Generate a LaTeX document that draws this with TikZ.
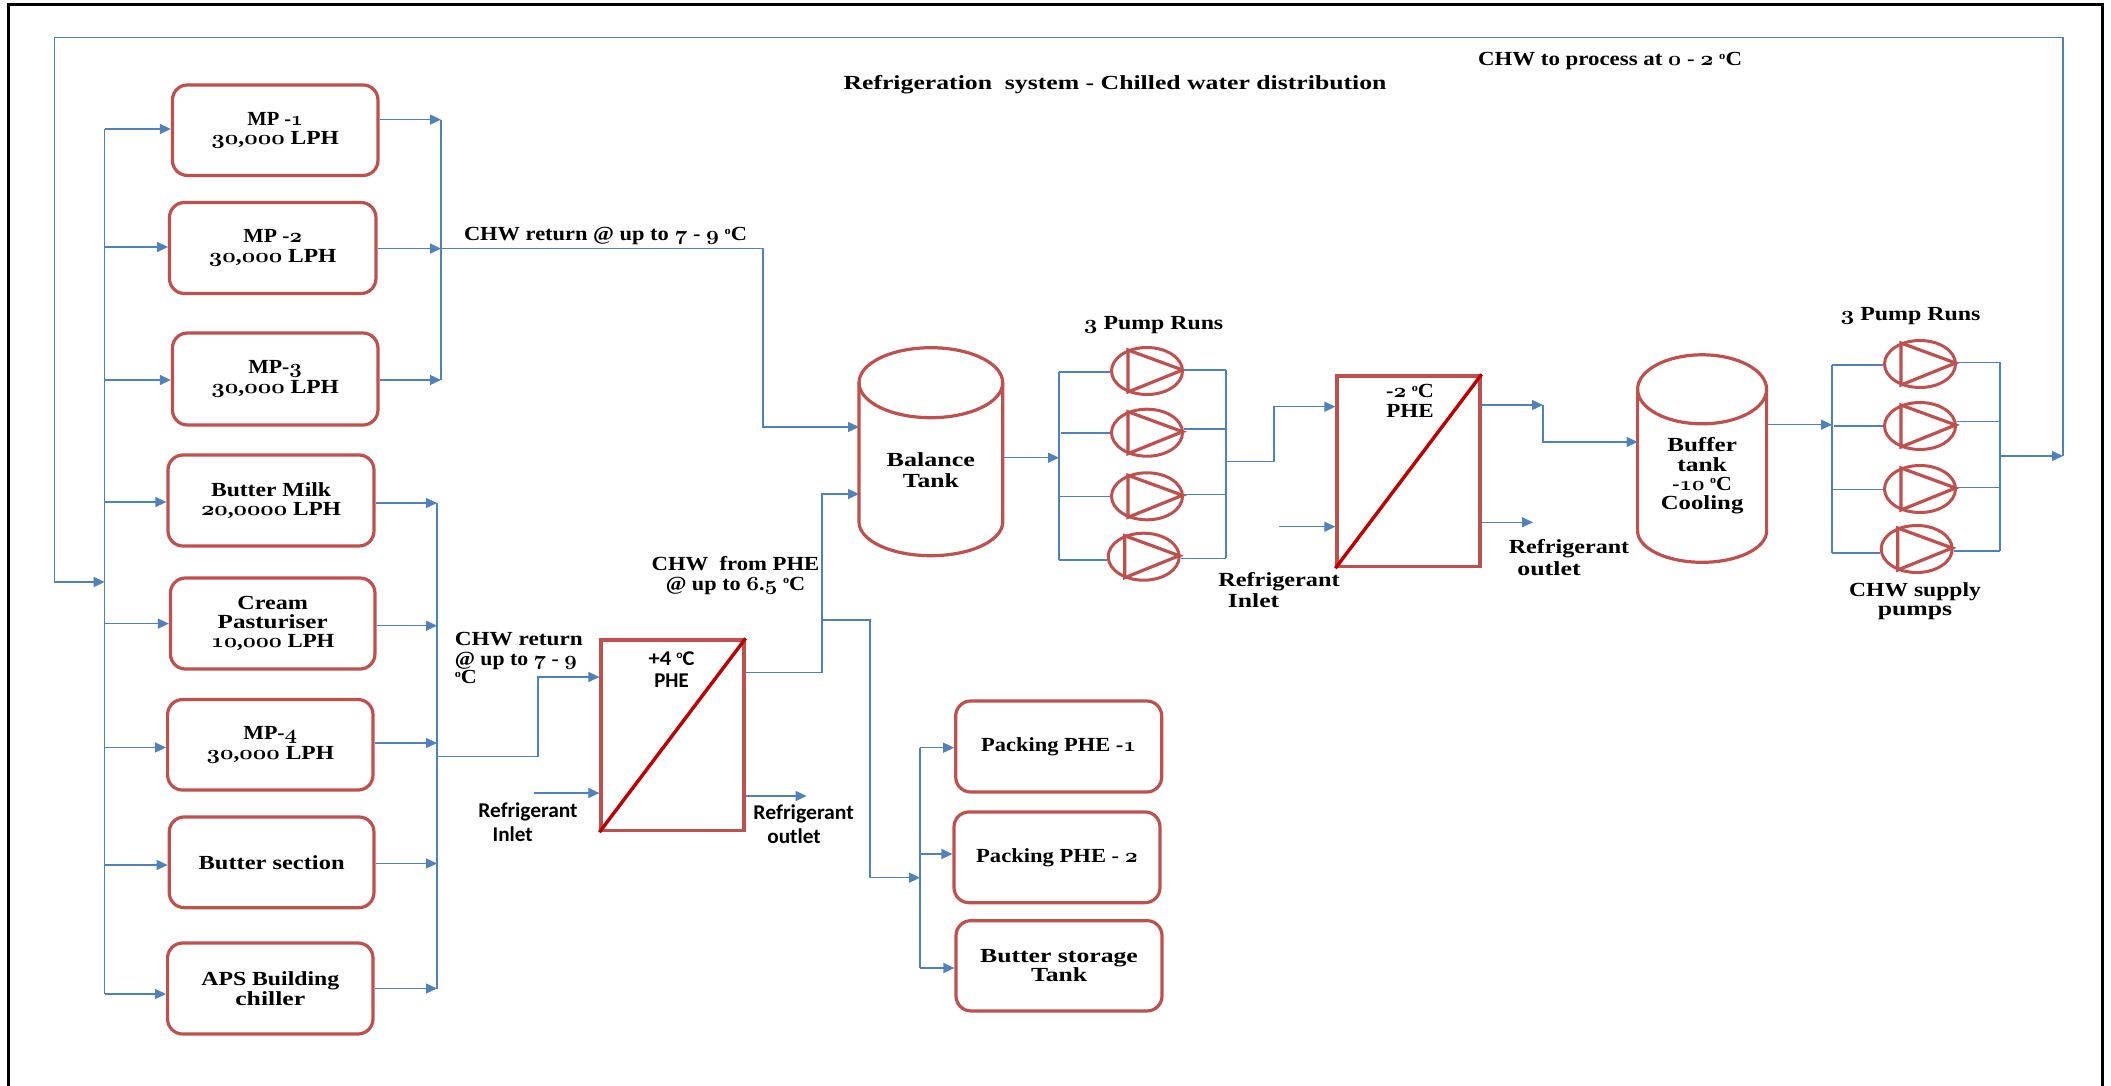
\documentclass[tikz,border=0pt]{standalone}
\usepackage{fontspec}
\usepackage{graphicx}
\usetikzlibrary{arrows.meta,shapes.geometric,calc}
\setmainfont{Liberation Serif}
\newfontfamily\carl{Carlito}
\font\osfont=cmmib10 at 20pt
\newcommand\os[1]{{\osfont #1}}
\newlength\fitlen
\newcommand\F[2]{\settowidth\fitlen{#2}\pgfmathsetmacro\fitr{#1/\the\fitlen}\scalebox{\fitr}[1]{#2}}
\newcommand\dg{\raisebox{6.5pt}{\fontsize{11}{11}\selectfont o}C}
\definecolor{boxred}{HTML}{C0504D}
\definecolor{pipe}{HTML}{4F81BD}
\definecolor{diag}{HTML}{C00000}
\tikzset{
  x=1pt,y=-1pt,
  procbox/.style={draw=boxred,line width=3.2pt,rounded corners=15pt,align=center,inner sep=0pt,
    font=\bfseries\fontsize{20}{19.3}\selectfont},
  lbl/.style={align=center,inner sep=0pt,font=\bfseries\fontsize{20}{19.3}\selectfont},
  clbl/.style={align=center,inner sep=0pt,font=\carl\bfseries\fontsize{21}{23}\selectfont},
  pipeline/.style={draw=pipe,line width=1.3pt},
  pipearrow/.style={pipeline,-{Triangle[length=11pt,width=10pt,fill=pipe]}},
  equip/.style={draw=boxred,line width=3.2pt},
  phebox/.style={draw=boxred,line width=3.2pt,inner sep=0pt,align=center},
  pumpbody/.style={ellipse,draw=boxred,line width=3pt,minimum width=71pt,minimum height=47pt,inner sep=0pt},
}
\newcommand\tri[1]{\draw[equip,line join=miter]
  ($(#1.center)+(-19,-21)$) -- ($(#1.center)+(35.5,-1)$) -- ($(#1.center)+(-19,21)$) -- cycle;}
\begin{document}
\begin{tikzpicture}
\useasboundingbox (0,0) rectangle (2111,1086);
\fill[white] (0,0) rectangle (2111,1086);
\draw[black,line width=3pt] (8,1086) -- (8,5) -- (2102.5,5) -- (2102.5,1086);

% process boxes
\node[procbox,minimum width=205.5pt,minimum height=90.5pt] (mp1) at (275.2,130.2) {\F{55.6}{MP -\os{1}}\\\F{127.5}{\os{30},\os{000} LPH}};
\node[procbox,minimum width=206.5pt,minimum height=91pt] (mp2) at (272.7,248) {\F{58.7}{MP -\os{2}}\\\F{127.5}{\os{30},\os{000} LPH}};
\node[procbox,minimum width=205.5pt,minimum height=92pt] (mp3) at (275.2,379) {\F{53.6}{MP-\os{3}}\\\F{127.5}{\os{30},\os{000} LPH}};
\node[procbox,minimum width=206pt,minimum height=91pt] (bm) at (271,500.5) {\F{120}{Butter Milk}\\\F{140}{\os{20},\os{0000} LPH}};
\node[procbox,minimum width=204.5pt,minimum height=91pt] (cp) at (272.7,623.5) {\F{70.6}{Cream}\\\F{110}{Pasturiser}\\\F{123.4}{\os{10},\os{000} LPH}};
\node[procbox,minimum width=205.4pt,minimum height=90.5pt] (mp4) at (270.3,744.8) {\F{54}{MP-\os{4}}\\\F{127.4}{\os{30},\os{000} LPH}};
\node[procbox,minimum width=204.7pt,minimum height=90.7pt] (bs) at (271.6,862.3) {\F{146}{Butter section}};
\node[procbox,minimum width=205.4pt,minimum height=91pt] (aps) at (270.3,988.5) {\F{137.8}{APS Building}\\\F{70}{chiller}};
\node[procbox,minimum width=206pt,minimum height=91pt] (pk1) at (1058.7,746.5) {\F{155}{Packing PHE -\os{1}}};
\node[procbox,minimum width=206pt,minimum height=90.7pt] (pk2) at (1057,857.3) {\F{161.7}{Packing PHE - \os{2}}};
\node[procbox,minimum width=206pt,minimum height=90.3pt] (bst) at (1059,965.8) {\F{157.7}{Butter storage}\\\F{56}{Tank}};

% plate heat exchangers
\node[phebox,minimum width=143pt,minimum height=190.7pt] (phea) at (672.5,735.3) {};
\draw[draw=diag,line width=3.4pt] (phea.south west) -- (phea.north east);
\node[clbl] (phealbl) at (671.6,669.5) {\F{46}{+4 \dg}\\[-0.5pt]\F{34.4}{PHE}};
\node[phebox,minimum width=143pt,minimum height=190.7pt] (pheb) at (1408.5,471.3) {};
\draw[draw=diag,line width=3.4pt] (pheb.south west) -- (pheb.north east);
\node[lbl] (pheblbl) at (1410,401) {\F{47.8}{-\os{2} \dg}\\\F{47.3}{PHE}};

% tanks
\draw[equip] (859,382.7) arc[start angle=180,end angle=-180,x radius=71.85,y radius=-35];
\draw[equip] (859,382.7) -- (859,522) arc[start angle=180,end angle=360,x radius=71.85,y radius=-33.7] -- (1002.7,382.7);
\node[lbl,minimum width=143.7pt,minimum height=60pt] (bal) at (930.8,470) {\F{88.4}{Balance}\\[2.2pt]\F{56}{Tank}};
\draw[equip] (1637.6,389.3) arc[start angle=180,end angle=-180,x radius=64.5,y radius=-34.5];
\draw[equip] (1637.6,389.3) -- (1637.6,531) arc[start angle=180,end angle=360,x radius=64.5,y radius=-31.3] -- (1766.6,389.3);
\node[lbl,minimum width=129pt,minimum height=60pt] (buf) at (1702.1,476) {\F{69.6}{Buffer}\\\F{49.6}{tank}\\\F{59.4}{-\os{10} \dg}\\\F{82.5}{Cooling}};

% pumps
\node[pumpbody] (pa1) at (1147,371) {}; \tri{pa1}
\node[pumpbody] (pa2) at (1147,432.7) {}; \tri{pa2}
\node[pumpbody] (pa3) at (1147,496.3) {}; \tri{pa3}
\node[pumpbody] (pa4) at (1143.7,556.7) {}; \tri{pa4}
\node[pumpbody] (pb1) at (1920,364) {}; \tri{pb1}
\node[pumpbody] (pb2) at (1920,426) {}; \tri{pb2}
\node[pumpbody] (pb3) at (1920,489) {}; \tri{pb3}
\node[pumpbody] (pb4) at (1916.7,549) {}; \tri{pb4}

% labels
\node[lbl] (t1) at (1115,85) {\F{543}{Refrigeration\ \ system - Chilled water distribution}};
\node[lbl] (t2) at (1610,61.5) {\F{264}{CHW to process at \os{0} - \os{2} \dg}};
\node[lbl] (t3) at (605.5,236) {\F{283}{CHW return @ up to \os{7} - \os{9} \dg}};
\node[lbl,align=left,anchor=west] (t4) at (454.6,658) {\F{128}{CHW return}\\[0.8pt]\F{122}{@ up to \os{7} - \os{9}}\\[-0.8pt]\F{22}{\dg}};
\node[lbl] (t5) at (735.5,575.5) {\F{167.6}{CHW\ \ from PHE}\\\F{139.5}{@ up to \os{6}.\os{5} \dg}};
\node[clbl] (r1) at (528,811.6) {\F{99.3}{Refrigerant}};
\node[clbl] (r2) at (512.6,834.6) {\F{40}{Inlet}};
\node[clbl] (r3) at (803.7,813.7) {\F{100.5}{Refrigerant}};
\node[clbl] (r4) at (794,836.7) {\F{53.4}{outlet}};
\node[lbl] (r5) at (1279,582) {\F{121.4}{Refrigerant}};
\node[lbl] (r6) at (1253.6,601) {\F{51.3}{Inlet}};
\node[lbl] (r7) at (1569,549) {\F{120.4}{Refrigerant}};
\node[lbl] (r8) at (1549,569) {\F{63.3}{outlet}};
\node[lbl] (p1) at (1153.6,324.7) {\F{139.3}{\os{3} Pump Runs}};
\node[lbl] (p2) at (1910.5,315.7) {\F{140}{\os{3} Pump Runs}};
\node[lbl] (p3) at (1915,601.5) {\F{131.7}{CHW supply}\\\F{74.3}{pumps}};

% junction points
\coordinate (mainR) at (2063,456);
\coordinate (mainT) at (2063,37.8);
\coordinate (mainL) at (54.6,37.8);
\coordinate (mainB) at (54.6,582);
\coordinate (hs) at (104.6,582);
\coordinate (hsT) at (104.6,129);
\coordinate (hsB) at (104.6,994);
\coordinate (cA) at (441,248.6);
\coordinate (cAt) at (441,119.6);
\coordinate (cAb) at (441,380);
\coordinate (cB) at (437,756.6);
\coordinate (cBt) at (437,503);
\coordinate (cBb) at (437,988.5);

% supply header
\draw[pipearrow] (mainR) ++(-63,0) coordinate (coutB) -- (mainR);
\draw[pipeline] (mainR) -- (mainT) -- (mainL) -- (mainB) -- ++(20,0);
\draw[pipearrow] (mainB) -- (hs);
\draw[pipeline] (hsT) -- (hsB);
\draw[pipearrow] (hsT) -- (mp1.west |- hsT);
\draw[pipearrow] (hs |- mp2.west) ++(0,-1) -- ++(63.5,0);
\draw[pipearrow] (hs |- 0,380) -- (mp3.west |- 0,380);
\draw[pipearrow] (hs |- 0,502) -- (bm.west |- 0,502);
\draw[pipearrow] (hs |- 0,623.6) -- (cp.west |- 0,623.6);
\draw[pipearrow] (hs |- 0,747.5) -- (mp4.west |- 0,747.5);
\draw[pipearrow] (hs |- 0,865) -- (bs.west |- 0,865);
\draw[pipearrow] (hsB) -- (aps.west |- hsB);

% return collector A
\draw[pipeline] (cAt) -- (cAb);
\draw[pipearrow] (mp1.east |- cAt) -- (cAt);
\draw[pipearrow] (mp2.east |- cA) -- (cA);
\draw[pipearrow] (mp3.east |- cAb) -- (cAb);
\coordinate (balA) at (859,427);
\draw[pipearrow] (cA) -- (763,248.6) -- (763,427) -- (balA);

% return collector B
\draw[pipeline] (cBt) -- (cBb);
\draw[pipearrow] (bm.east |- cBt) -- (cBt);
\draw[pipearrow] (cp.east |- 0,625.7) -- (cB |- 0,625.7);
\draw[pipearrow] (mp4.east |- 0,743) -- (cB |- 0,743);
\draw[pipearrow] (bs.east |- 0,863.5) -- (cB |- 0,863.5);
\draw[pipearrow] (aps.east |- cBb) -- (cBb);
\draw[pipearrow] (cB) -- (538,756.6) -- (538,677) -- (phea.west |- 0,677);
\draw[pipearrow] (534,793) -- (phea.west |- 0,793);
\draw[pipearrow] (phea.east |- 0,796) -- (806.6,796);

% PHE to tank and packing
\coordinate (balB) at (859,494);
\draw[pipearrow] (phea.east |- 0,672.7) -- (822,672.7) -- (822,494) -- (balB);
\coordinate (hp) at (920,877.7);
\draw[pipearrow] (822,620) -- (870,620) -- (870,877.7) -- (hp);
\draw[pipeline] (920,747.7) -- (920,968);
\draw[pipearrow] (920,747.7) -- (pk1.west |- 0,747.7);
\draw[pipearrow] (920,854) -- (pk2.west |- 0,854);
\draw[pipearrow] (920,968) -- (bst.west |- 0,968);

% pump set A
\coordinate (hA) at (1059,457.7);
\draw[pipearrow] (bal.east |- hA) -- (hA);
\draw[pipeline] (hA |- 0,372) -- (hA |- 0,560);
\draw[pipeline] (hA |- 0,372) -- (pa1.west |- 0,372);
\draw[pipeline] (1061,433) -- (pa2.west |- 0,433);
\draw[pipeline] (hA |- 0,496.7) -- (pa3.west |- 0,496.7);
\draw[pipeline] (hA |- 0,560) -- (pa4.west |- 0,560);
\coordinate (cC) at (1226,461.7);
\draw[pipeline] (cC |- 0,370) -- (cC |- 0,558.3);
\draw[pipeline] (pa1.east |- 0,370) -- (cC |- 0,370);
\draw[pipeline] (pa2.east |- 0,429) -- (cC |- 0,429);
\draw[pipeline] (pa3.east |- 0,494.3) -- (cC |- 0,494.3);
\draw[pipeline] (pa4.east |- 0,558.3) -- (cC |- 0,558.3);
\draw[pipearrow] (cC) -- (1274,461.7) -- (1274,406.7) -- (pheb.west |- 0,406.7);
\draw[pipearrow] (1279,526.7) -- (pheb.west |- 0,526.7);
\draw[pipearrow] (pheb.east |- 0,522.3) -- (1533,522.3);
\draw[pipearrow] (pheb.east |- 0,405) -- (1543,405);
\coordinate (bufI) at (1637.6,442);
\draw[pipearrow] (1543,405) -- (1543,442) -- (bufI);

% pump set B
\coordinate (hB) at (1832,424.7);
\draw[pipearrow] (buf.east |- hB) -- (hB);
\draw[pipeline] (hB |- 0,365) -- (hB |- 0,553);
\draw[pipeline] (hB |- 0,365) -- (pb1.west |- 0,365);
\draw[pipeline] (1834,426) -- (pb2.west |- 0,426);
\draw[pipeline] (1833,489.5) -- (pb3.west |- 0,489.5);
\draw[pipeline] (hB |- 0,553) -- (pb4.west |- 0,553);
\coordinate (cD) at (2000,456);
\draw[pipeline] (cD |- 0,362.4) -- (cD |- 0,551);
\draw[pipeline] (pb1.east |- 0,362.4) -- (cD |- 0,362.4);
\draw[pipeline] (pb2.east |- 0,421.7) -- (cD |- 0,421.7);
\draw[pipeline] (pb3.east |- 0,487.4) -- (cD |- 0,487.4);
\draw[pipeline] (pb4.east |- 0,551) -- (cD |- 0,551);
\end{tikzpicture}
\end{document}
